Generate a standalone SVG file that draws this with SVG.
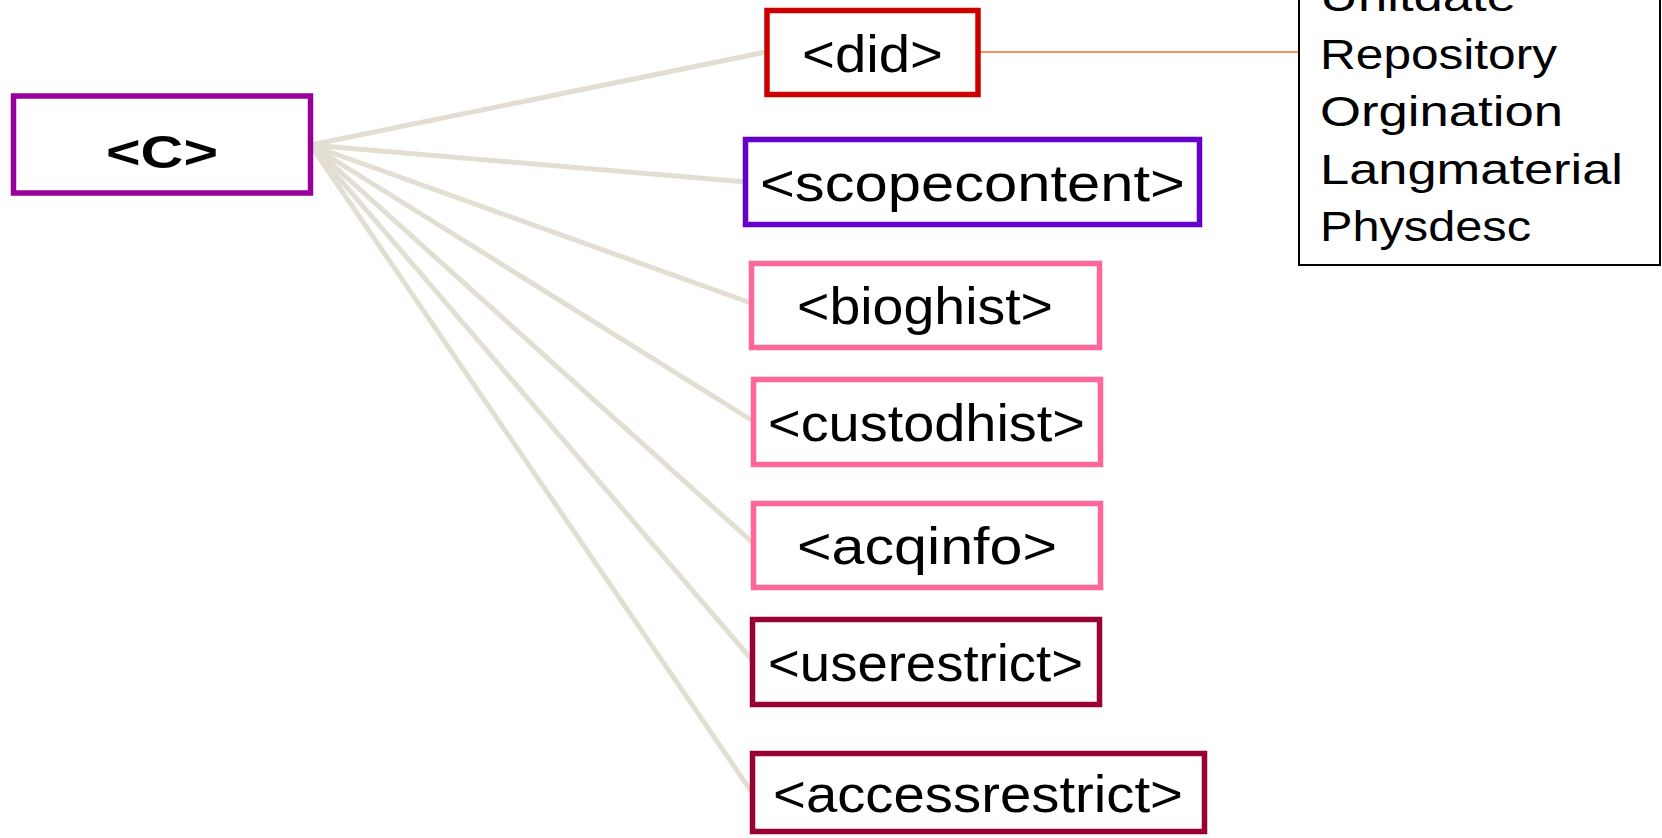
<svg xmlns="http://www.w3.org/2000/svg" width="1662" height="838" viewBox="0 0 1662 838">
<style>
.box{fill:#ffffff;stroke-width:5.5}
.lbl{font-family:"Liberation Sans",Arial,sans-serif;font-size:52px;fill:#000000}
.side{font-family:"Liberation Sans",Arial,sans-serif;font-size:42px;fill:#000000}
.conn{stroke:#E2DED2;stroke-width:5;stroke-linecap:butt;fill:none}
</style>
<rect x="0" y="0" width="1662" height="838" fill="#ffffff"/>
<g id="connectors">
<line class="conn" x1="310.5" y1="145" x2="766" y2="52"/>
<line class="conn" x1="310.5" y1="145" x2="746" y2="182"/>
<line class="conn" x1="310.5" y1="145" x2="751" y2="303"/>
<line class="conn" x1="310.5" y1="145" x2="753" y2="421"/>
<line class="conn" x1="310.5" y1="145" x2="753" y2="543"/>
<line class="conn" x1="310.5" y1="145" x2="753" y2="661"/>
<line class="conn" x1="310.5" y1="145" x2="753" y2="794"/>
<line x1="980" y1="52" x2="1299" y2="52" stroke="#FF8C5A" stroke-width="2"/>
</g>
<g id="node-c">
<rect class="box" x="13.5" y="96" width="297" height="97" stroke="#990099"/>
<text x="106" y="168" font-family="'Liberation Sans',Arial,sans-serif" font-size="46" font-weight="bold" textLength="112" lengthAdjust="spacingAndGlyphs">&lt;C&gt;</text>
</g>
<g id="node-did">
<rect class="box" x="767" y="10.5" width="211" height="84" stroke="#CC0000"/>
<text class="lbl" x="802" y="72" textLength="141" lengthAdjust="spacingAndGlyphs">&lt;did&gt;</text>
</g>
<g id="node-scopecontent">
<rect class="box" x="745.5" y="139.5" width="454" height="85" stroke="#6600CC"/>
<text class="lbl" x="760" y="201" textLength="425" lengthAdjust="spacingAndGlyphs">&lt;scopecontent&gt;</text>
</g>
<g id="node-bioghist">
<rect class="box" x="751.5" y="263.5" width="348" height="84" stroke="#FF6699"/>
<text class="lbl" x="797" y="324" textLength="256" lengthAdjust="spacingAndGlyphs">&lt;bioghist&gt;</text>
</g>
<g id="node-custodhist">
<rect class="box" x="753.5" y="379.5" width="347" height="85" stroke="#FF6699"/>
<text class="lbl" x="768" y="441" textLength="317" lengthAdjust="spacingAndGlyphs">&lt;custodhist&gt;</text>
</g>
<g id="node-acqinfo">
<rect class="box" x="753.5" y="503.5" width="347" height="84" stroke="#FF6699"/>
<text class="lbl" x="797" y="564" textLength="260" lengthAdjust="spacingAndGlyphs">&lt;acqinfo&gt;</text>
</g>
<g id="node-userestrict">
<rect class="box" x="752.5" y="619.5" width="347" height="85" stroke="#990033"/>
<text class="lbl" x="768" y="681" textLength="315" lengthAdjust="spacingAndGlyphs">&lt;userestrict&gt;</text>
</g>
<g id="node-accessrestrict">
<rect class="box" x="752.5" y="753.5" width="452" height="78" stroke="#990033"/>
<text class="lbl" x="773" y="812" textLength="410" lengthAdjust="spacingAndGlyphs">&lt;accessrestrict&gt;</text>
</g>
<g id="node-did-details">
<rect x="1299" y="-5" width="361" height="270" fill="#ffffff" stroke="#000000" stroke-width="2"/>
<text class="side" x="1320" y="11" textLength="196" lengthAdjust="spacingAndGlyphs">Unitdate</text>
<text class="side" x="1320" y="69" textLength="237" lengthAdjust="spacingAndGlyphs">Repository</text>
<text class="side" x="1320" y="126" textLength="243" lengthAdjust="spacingAndGlyphs">Orgination</text>
<text class="side" x="1320" y="184" textLength="303" lengthAdjust="spacingAndGlyphs">Langmaterial</text>
<text class="side" x="1320" y="241" textLength="211" lengthAdjust="spacingAndGlyphs">Physdesc</text>
</g>
</svg>
